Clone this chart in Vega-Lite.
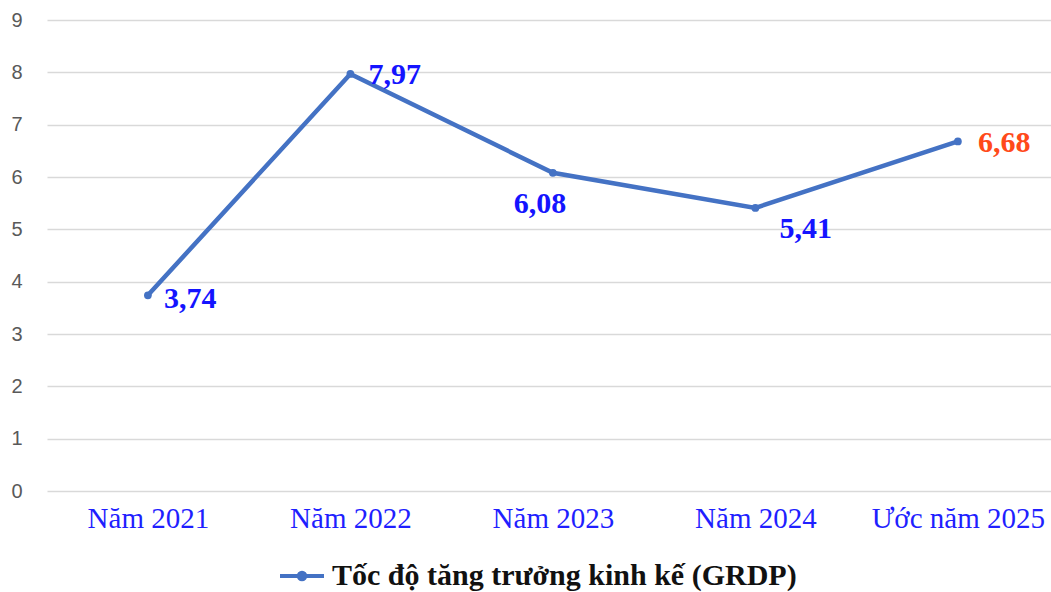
{
  "$schema": "https://vega.github.io/schema/vega-lite/v6.json",
  "width": 1004,
  "height": 471,
  "autosize": {"type": "none"},
  "padding": {"left": 47, "top": 20, "right": 0, "bottom": 101},
  "background": "white",
  "config": {
    "view": {"stroke": null},
    "locale": {"number": {"decimal": ",", "thousands": ".", "grouping": [3], "currency": ["", ""]}}
  },
  "data": {
    "values": [
      {"nam": "Năm 2021", "gt": 3.74, "series": "Tốc độ tăng trưởng kinh kế (GRDP)"},
      {"nam": "Năm 2022", "gt": 7.97, "series": "Tốc độ tăng trưởng kinh kế (GRDP)"},
      {"nam": "Năm 2023", "gt": 6.08, "series": "Tốc độ tăng trưởng kinh kế (GRDP)"},
      {"nam": "Năm 2024", "gt": 5.41, "series": "Tốc độ tăng trưởng kinh kế (GRDP)"},
      {"nam": "Ước năm 2025", "gt": 6.68, "series": "Tốc độ tăng trưởng kinh kế (GRDP)"}
    ]
  },
  "encoding": {
    "x": {
      "field": "nam", "type": "ordinal", "sort": null,
      "scale": {"type": "point", "padding": 0.479, "align": 0.52},
      "axis": {"title": null, "domain": false, "ticks": false, "grid": false, "labelAngle": 0,
        "labelFont": "Liberation Serif", "labelFontSize": 29, "labelColor": "#1f1fff", "labelPadding": 13}
    },
    "y": {
      "field": "gt", "type": "quantitative",
      "scale": {"domain": [0, 9], "nice": false, "zero": true},
      "axis": {"title": null, "domain": false, "ticks": false, "values": [0,1,2,3,4,5,6,7,8,9], "labelOverlap": false,
        "labelFont": "Liberation Sans", "labelFontSize": 20, "labelColor": "#595959", "labelPadding": 25,
        "gridColor": "#d9d9d9", "gridWidth": 1.5}
    }
  },
  "layer": [
    {
      "mark": {"type": "line", "color": "#4472C4", "strokeWidth": 4.5},
      "encoding": {
        "color": {"field": "series", "type": "nominal", "scale": {"range": ["#4472C4"]},
          "legend": {"title": null, "orient": "none", "legendX": 231, "legendY": 532,
            "symbolType": "M-1,0L1,0M-0.15,0A0.15,0.15 0 1,0 0.15,0A0.15,0.15 0 1,0 -0.15,0Z",
            "symbolSize": 1936, "symbolStrokeWidth": 4, "symbolFillColor": "#4472C4", "symbolStrokeColor": "#4472C4",
            "labelFont": "Liberation Serif", "labelFontWeight": "bold", "labelFontSize": 30, "labelColor": "#111111",
            "labelOffset": 6, "labelLimit": 700}
        }
      }
    },
    {
      "mark": {"type": "point", "filled": true, "color": "#4472C4", "size": 60, "opacity": 1}
    },
    {
      "transform": [{"filter": "datum.nam == 'Năm 2021'"}],
      "mark": {"type": "text", "align": "left", "baseline": "middle", "dx": 16, "dy": 4,
        "font": "Liberation Serif", "fontWeight": "bold", "fontSize": 30, "color": "#1414ff"},
      "encoding": {"text": {"field": "gt", "type": "quantitative", "format": ".2f"}}
    },
    {
      "transform": [{"filter": "datum.nam == 'Năm 2022'"}],
      "mark": {"type": "text", "align": "left", "baseline": "middle", "dx": 18, "dy": 1,
        "font": "Liberation Serif", "fontWeight": "bold", "fontSize": 30, "color": "#1414ff"},
      "encoding": {"text": {"field": "gt", "type": "quantitative", "format": ".2f"}}
    },
    {
      "transform": [{"filter": "datum.nam == 'Năm 2023'"}],
      "mark": {"type": "text", "align": "center", "baseline": "middle", "dx": -13, "dy": 31,
        "font": "Liberation Serif", "fontWeight": "bold", "fontSize": 30, "color": "#1414ff"},
      "encoding": {"text": {"field": "gt", "type": "quantitative", "format": ".2f"}}
    },
    {
      "transform": [{"filter": "datum.nam == 'Năm 2024'"}],
      "mark": {"type": "text", "align": "left", "baseline": "middle", "dx": 24, "dy": 21,
        "font": "Liberation Serif", "fontWeight": "bold", "fontSize": 30, "color": "#1414ff"},
      "encoding": {"text": {"field": "gt", "type": "quantitative", "format": ".2f"}}
    },
    {
      "transform": [{"filter": "datum.nam == 'Ước năm 2025'"}],
      "mark": {"type": "text", "align": "left", "baseline": "middle", "dx": 20, "dy": 2,
        "font": "Liberation Serif", "fontWeight": "bold", "fontSize": 30, "color": "#ff4a1a"},
      "encoding": {"text": {"field": "gt", "type": "quantitative", "format": ".2f"}}
    }
  ]
}
